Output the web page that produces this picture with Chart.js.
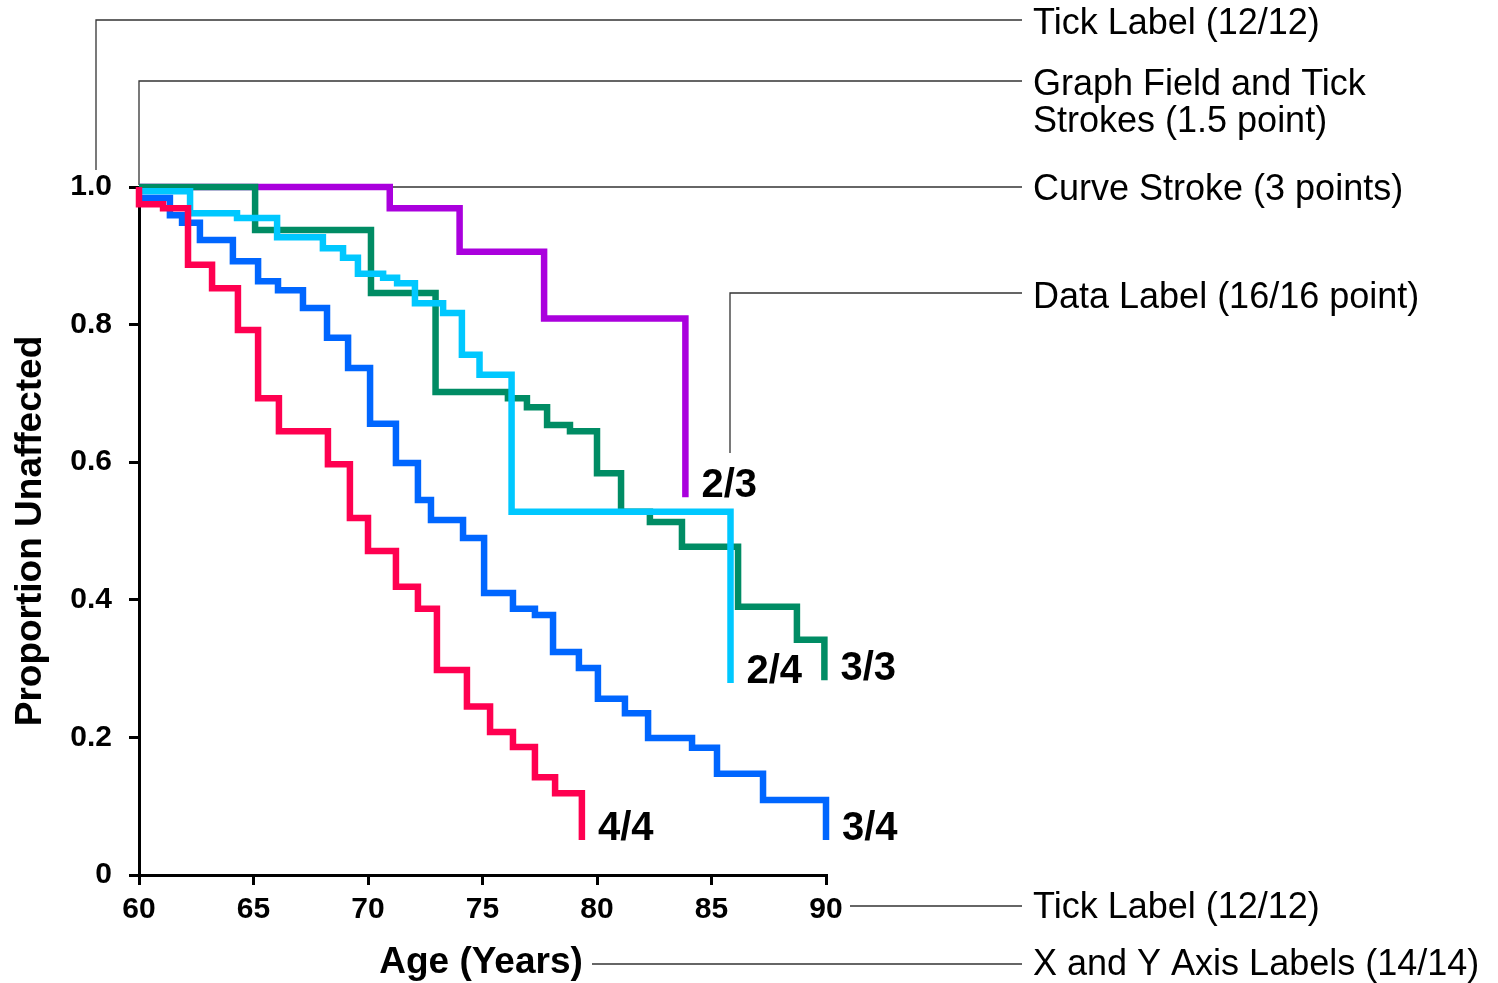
<!DOCTYPE html>
<html>
<head>
<meta charset="utf-8">
<title>Proportion Unaffected</title>
<script src="https://cdn.jsdelivr.net/npm/chart.js@4.4.1/dist/chart.umd.min.js"></script>
<style>
    html, body { margin: 0; padding: 0; background: #fff; }
    #contenedor { width: 1498px; height: 983px; }
</style>
</head>
<body>
<div id="contenedor"><canvas id="grafico" width="1498" height="983"></canvas></div>
<script>
// Valores: edad (anos) y proporcion sin afectar
const xTickValues = [60, 65, 70, 75, 80, 85, 90];
const yTickValues = [0, 0.2, 0.4, 0.6, 0.8, 1.0];
const yTickLabels = ['0', '0.2', '0.4', '0.6', '0.8', '1.0'];

const etiquetas = ['4/4', '3/4', '2/4', '3/3', '2/3'];
const colores = ['#FF0050', '#0066FF', '#00C8FF', '#008C64', '#AA00DD'];

const edad44 = [60, 60, 61.05, 62.14, 63.19, 64.32, 65.20, 66.11, 68.25, 69.21, 70.0, 71.22, 72.18, 73.01, 74.32, 75.33, 76.33, 77.29, 78.17, 79.34];
const prop44 = [1.0, 0.975, 0.969, 0.887, 0.853, 0.792, 0.693, 0.645, 0.597, 0.519, 0.471, 0.419, 0.387, 0.298, 0.245, 0.208, 0.186, 0.142, 0.119, 0.051];

const edad34 = [60, 61.35, 61.88, 62.66, 64.10, 65.20, 66.07, 67.16, 68.21, 69.13, 70.09, 71.22, 72.18, 72.75, 74.15, 75.07, 76.33, 77.29, 78.08, 79.21, 80.04, 81.22, 82.23, 84.15, 85.24, 87.25, 90.0];
const prop34 = [0.984, 0.959, 0.948, 0.923, 0.892, 0.863, 0.850, 0.824, 0.781, 0.737, 0.656, 0.599, 0.545, 0.516, 0.490, 0.410, 0.387, 0.378, 0.324, 0.301, 0.256, 0.235, 0.199, 0.185, 0.147, 0.109, 0.051];

const edad24 = [60, 62.23, 64.28, 66.03, 68.03, 68.91, 69.56, 70.66, 71.27, 72.05, 73.28, 74.10, 74.87, 76.27, 85.83];
const prop24 = [0.994, 0.962, 0.955, 0.927, 0.911, 0.897, 0.874, 0.868, 0.860, 0.831, 0.817, 0.756, 0.727, 0.528, 0.279];

const edad33 = [60, 65.07, 70.13, 72.95, 76.11, 76.94, 77.82, 78.82, 80.0, 81.05, 82.31, 83.71, 86.16, 88.73, 89.93];
const prop33 = [1.0, 0.9375, 0.846, 0.702, 0.693, 0.680, 0.654, 0.645, 0.584, 0.528, 0.513, 0.477, 0.390, 0.342, 0.283];

const edad23 = [60, 70.95, 74.0, 77.69, 83.86];
const prop23 = [1.0, 0.969, 0.906, 0.809, 0.549];

const edades = [edad44, edad34, edad24, edad33, edad23];
const proporciones = [prop44, prop34, prop24, prop33, prop23];

const fuente = "'Liberation Sans', Arial, Helvetica, sans-serif";

// Llamadas con texto a la derecha del grafico
function dibujarLlamadas(ctx) {
    const llamadas = [
        { puntos: [[96, 170], [96, 20], [1022, 20]], textos: [['Tick Label (12/12)', 34]] },
        { puntos: [[139, 185], [139, 81], [1022, 81]], textos: [['Graph Field and Tick', 95], ['Strokes (1.5 point)', 132]] },
        { puntos: [[139, 187], [1022, 187]], textos: [['Curve Stroke (3 points)', 200]] },
        { puntos: [[730, 453], [730, 293], [1022, 293]], textos: [['Data Label (16/16 point)', 308]] },
        { puntos: [[850, 906], [1022, 906]], textos: [['Tick Label (12/12)', 918]] },
        { puntos: [[592, 964], [1022, 964]], textos: [['X and Y Axis Labels (14/14)', 975]] }
    ];
    ctx.save();
    ctx.strokeStyle = '#333';
    ctx.lineWidth = 1.3;
    ctx.fillStyle = '#000';
    ctx.font = '36px ' + fuente;
    ctx.textAlign = 'left';
    ctx.textBaseline = 'alphabetic';
    llamadas.forEach(ll => {
        ctx.beginPath();
        ll.puntos.forEach((p, i) => i === 0 ? ctx.moveTo(p[0], p[1]) : ctx.lineTo(p[0], p[1]));
        ctx.stroke();
        ll.textos.forEach(t => ctx.fillText(t[0], 1033, t[1]));
    });
    ctx.restore();
}

const pluginTextos = {
    id: 'textos',
    beforeDatasetsDraw(chart) {
        dibujarLlamadas(chart.ctx);
    },
    afterDraw(chart) {
        const ctx = chart.ctx;
        const xs = chart.scales.x;
        const ys = chart.scales.y;
        ctx.save();
        ctx.fillStyle = '#000';

        // Etiquetas de cada curva al final de la linea
        ctx.font = 'bold 40px ' + fuente;
        ctx.textAlign = 'left';
        ctx.textBaseline = 'alphabetic';
        edades.forEach((e, i) => {
            const x = xs.getPixelForValue(e[e.length - 1]);
            const y = ys.getPixelForValue(proporciones[i][proporciones[i].length - 1]);
            ctx.fillText(etiquetas[i], x + 16, y);
        });

        // Titulos de los ejes
        ctx.font = 'bold 37px ' + fuente;
        ctx.textAlign = 'center';
        ctx.fillText('Age (Years)', 481, 973);
        ctx.translate(41, 531);
        ctx.rotate(-Math.PI / 2);
        ctx.fillText('Proportion Unaffected', 0, 0);
        ctx.restore();
    }
};

const ejeComun = {
    display: true,
    drawOnChartArea: false,
    drawTicks: true,
    tickLength: 10,
    tickWidth: 3,
    tickColor: '#000',
    color: '#000',
    lineWidth: 3
};

const datasets = edades.map((e, i) => ({
    label: etiquetas[i],
    data: e.map((x, j) => ({ x: x, y: proporciones[i][j] })),
    borderColor: colores[i],
    borderWidth: 6.5,
    stepped: 'before',
    pointRadius: 0,
    fill: false,
    borderCapStyle: 'butt',
    borderJoinStyle: 'miter',
    clip: false
}));

new Chart(document.getElementById('grafico').getContext('2d'), {
    type: 'line',
    data: { datasets: datasets },
    plugins: [pluginTextos],
    options: {
        responsive: false,
        animation: false,
        layout: { padding: { top: 187, right: 672, left: 0, bottom: 0 } },
        plugins: { legend: { display: false }, tooltip: { enabled: false } },
        scales: {
            x: {
                type: 'linear',
                min: 60,
                max: 90,
                grid: ejeComun,
                border: { display: true, color: '#000', width: 3 },
                afterFit: s => { s.height = 108; },
                afterBuildTicks: s => { s.ticks = xTickValues.map(v => ({ value: v })); },
                ticks: {
                    autoSkip: false,
                    maxRotation: 0,
                    padding: 7,
                    color: '#000',
                    font: { family: fuente, size: 30, weight: 'bold' },
                    callback: v => String(v)
                }
            },
            y: {
                type: 'linear',
                min: 0,
                max: 1,
                grid: ejeComun,
                border: { display: true, color: '#000', width: 3 },
                afterFit: s => { s.width = 139; },
                afterBuildTicks: s => { s.ticks = yTickValues.map(v => ({ value: v })); },
                ticks: {
                    autoSkip: false,
                    padding: 17,
                    color: '#000',
                    font: { family: fuente, size: 30, weight: 'bold' },
                    callback: v => yTickLabels[yTickValues.indexOf(v)]
                }
            }
        }
    }
});
</script>
</body>
</html>
